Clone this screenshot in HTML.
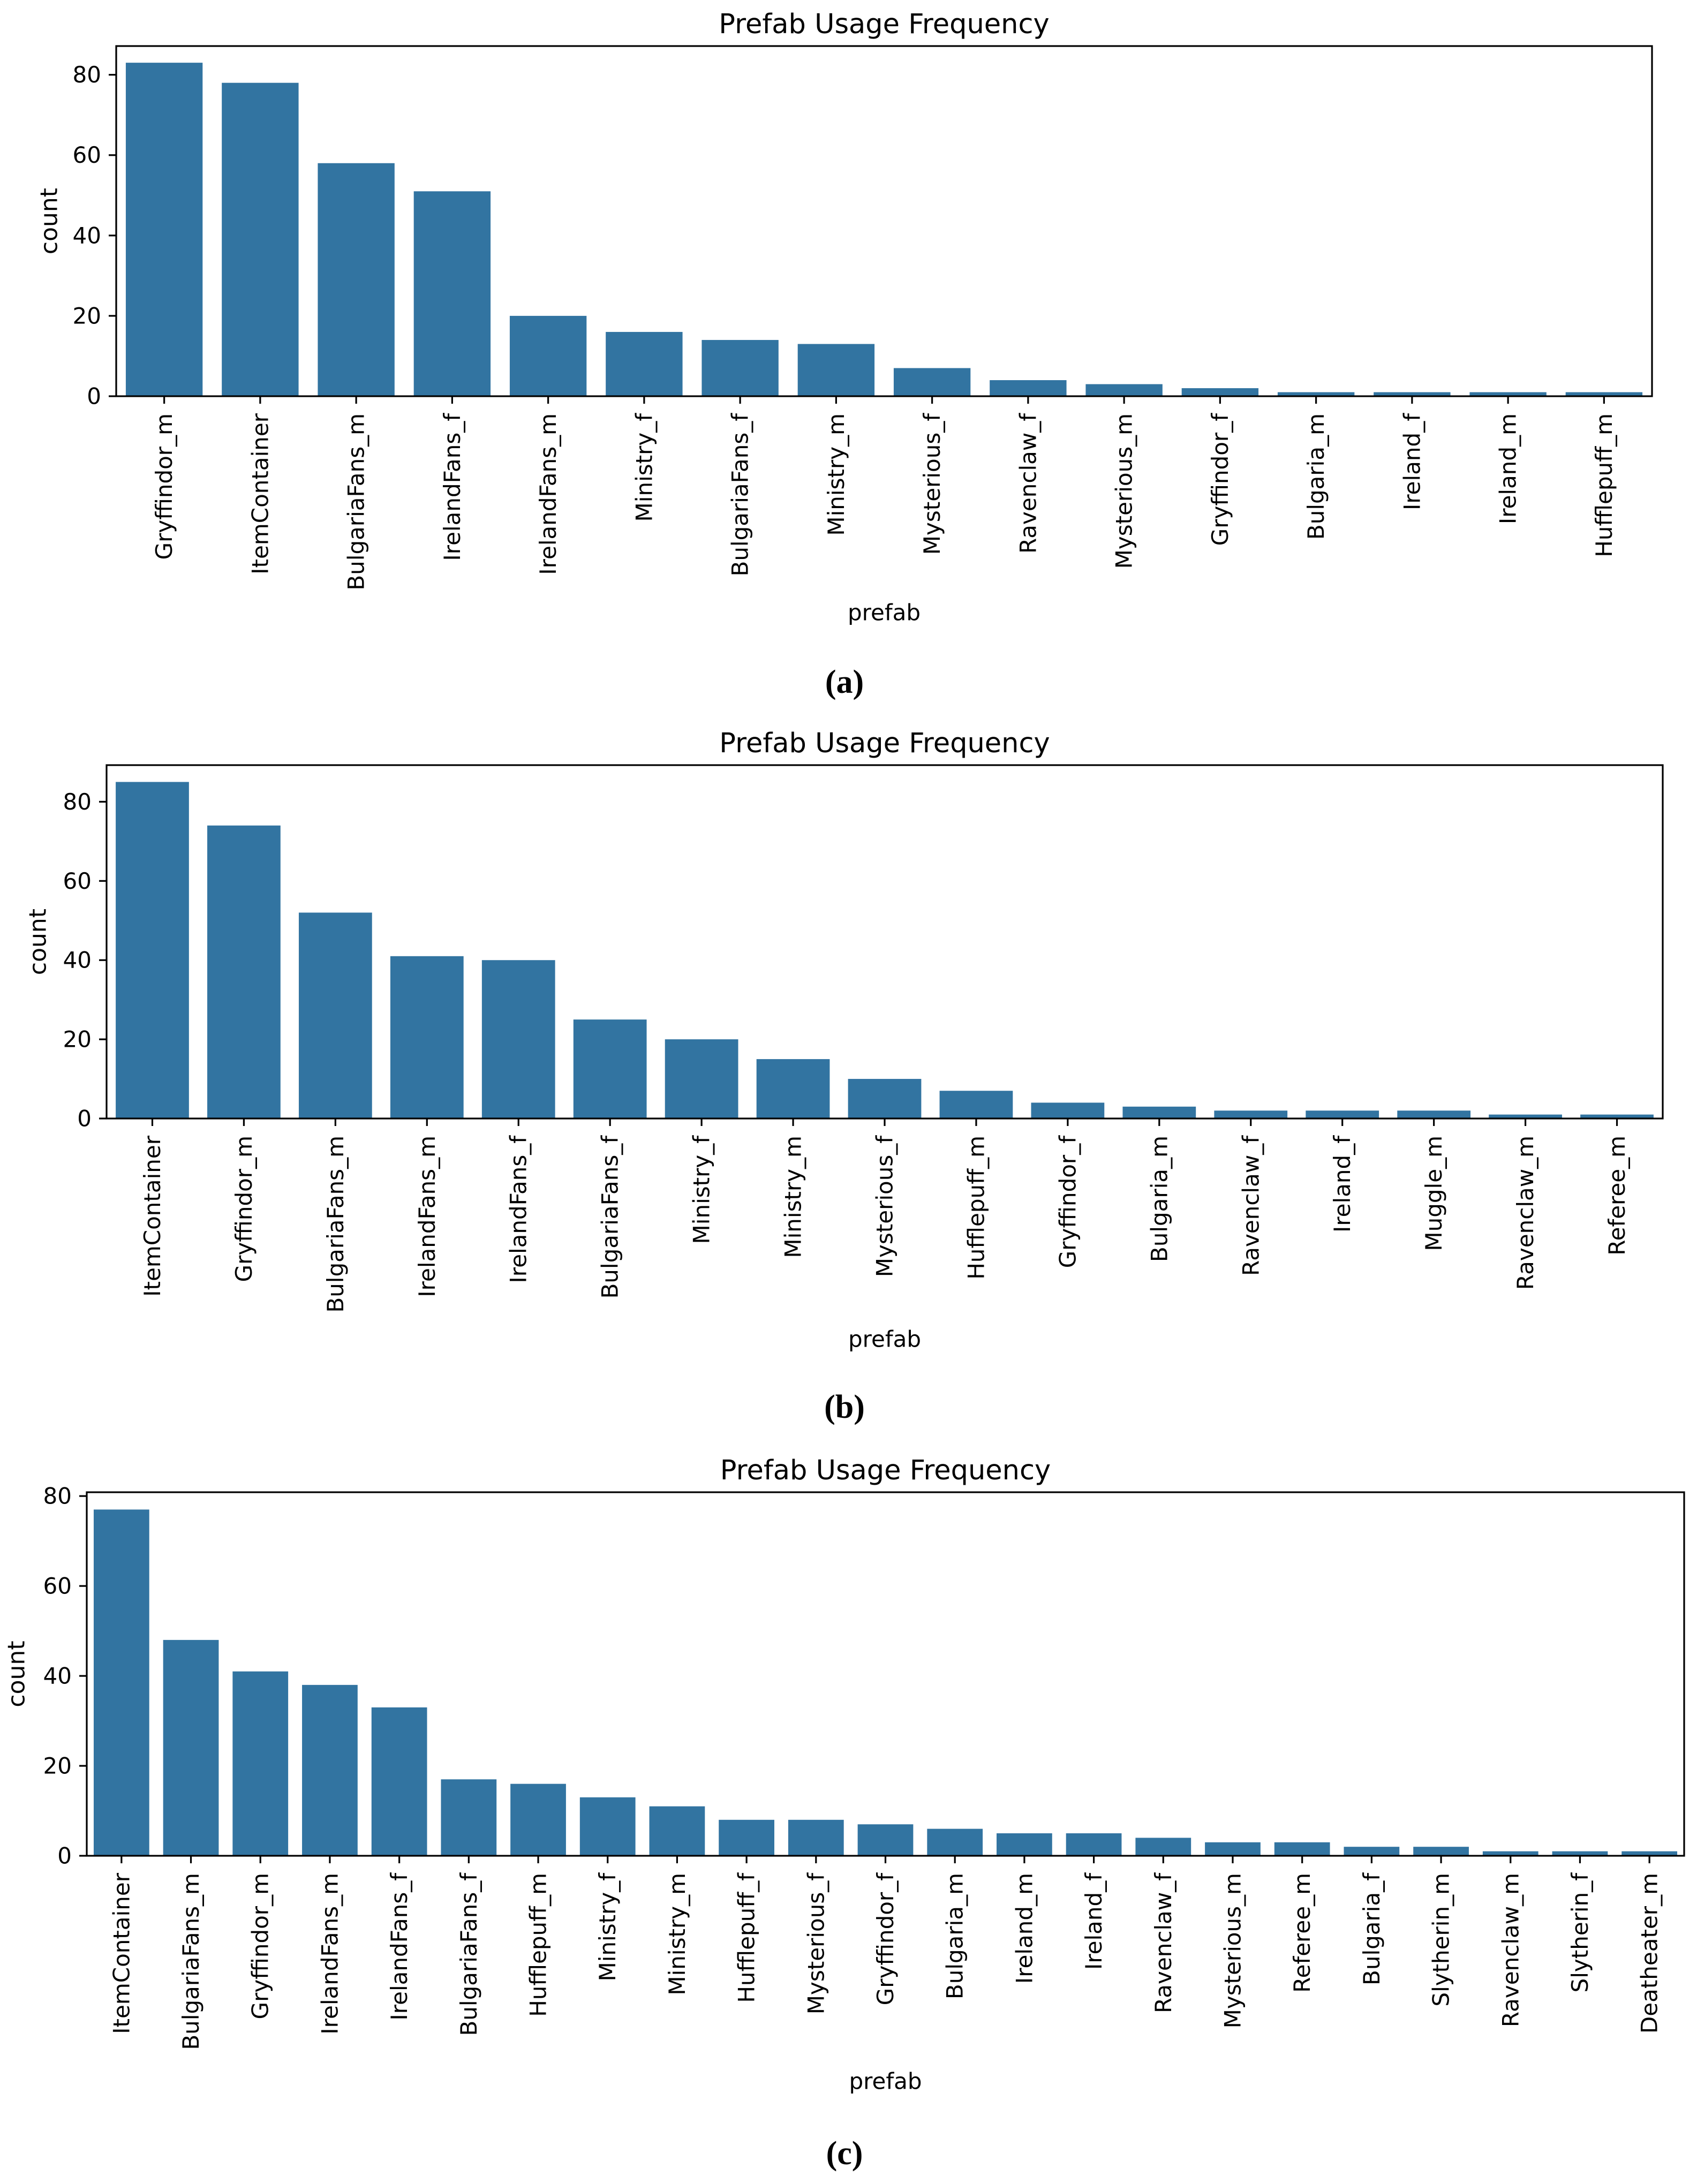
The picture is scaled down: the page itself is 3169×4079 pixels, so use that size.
<!DOCTYPE html>
<html><head><meta charset="utf-8">
<style>
html,body{margin:0;padding:0;background:#fff;}
svg{display:block;}
text{font-family:"DejaVu Sans","Liberation Sans",sans-serif;fill:#000;}
.pl{font-family:"Liberation Serif","DejaVu Serif",serif;font-weight:bold;}
</style></head>
<body>
<svg id="fig" width="3169" height="4079" viewBox="0 0 3169 4079" xmlns="http://www.w3.org/2000/svg"></svg>
<script>
const catsA = ["Gryffindor_m","ItemContainer","BulgariaFans_m","IrelandFans_f","IrelandFans_m","Ministry_f","BulgariaFans_f","Ministry_m","Mysterious_f","Ravenclaw_f","Mysterious_m","Gryffindor_f","Bulgaria_m","Ireland_f","Ireland_m","Hufflepuff_m"];
const valsA = [83,78,58,51,20,16,14,13,7,4,3,2,1,1,1,1];
const catsB = ["ItemContainer","Gryffindor_m","BulgariaFans_m","IrelandFans_m","IrelandFans_f","BulgariaFans_f","Ministry_f","Ministry_m","Mysterious_f","Hufflepuff_m","Gryffindor_f","Bulgaria_m","Ravenclaw_f","Ireland_f","Muggle_m","Ravenclaw_m","Referee_m"];
const valsB = [85,74,52,41,40,25,20,15,10,7,4,3,2,2,2,1,1];
const catsC = ["ItemContainer","BulgariaFans_m","Gryffindor_m","IrelandFans_m","IrelandFans_f","BulgariaFans_f","Hufflepuff_m","Ministry_f","Ministry_m","Hufflepuff_f","Mysterious_f","Gryffindor_f","Bulgaria_m","Ireland_m","Ireland_f","Ravenclaw_f","Mysterious_m","Referee_m","Bulgaria_f","Slytherin_m","Ravenclaw_m","Slytherin_f","Deatheater_m"];
const valsC = [77,48,41,38,33,17,16,13,11,8,8,7,6,5,5,4,3,3,2,2,1,1,1];
const yTicks = [0,20,40,60,80];
const panelLabels = ["(a)","(b)","(c)"];

const NS = "http://www.w3.org/2000/svg";
const fig = document.getElementById("fig");
function mk(tag, attrs, parent){
  const e = document.createElementNS(NS, tag);
  for (const k in attrs) e.setAttribute(k, attrs[k]);
  (parent||fig).appendChild(e);
  return e;
}
const layouts = [
  {L:217, R:3085, T:86, B:740, ylx:92, xly:1144, ply:1274},
  {L:199, R:3105, T:1429, B:2089, ylx:71, xly:2501, ply:2628},
  {L:162, R:3145, T:2787, B:3466, ylx:31, xly:3887, ply:4022}
];
const datasets = [[catsA,valsA],[catsB,valsB],[catsC,valsC]];

datasets.forEach((ds, i) => {
  const cats = ds[0], vals = ds[1], lay = layouts[i];
  const g = mk("g", {});
  
  
  const n = cats.length;
  const ymax = Math.max(...vals) * 1.05;
  const xs = k => lay.L + (k + 0.5) * (lay.R - lay.L) / n;
  const ys = v => lay.B - v * (lay.B - lay.T) / ymax;
  const bw = 0.8 * (lay.R - lay.L) / n;
  vals.forEach((v, k) => {
    const r = mk("rect", {x: xs(k) - bw/2, y: ys(v), width: bw, height: ys(0) - ys(v), fill: "#3274a1"}, g);
    
    
  });
  cats.forEach((c, k) => {
    const x = xs(k);
    mk("line", {x1:x, x2:x, y1:lay.B, y2:lay.B+14, stroke:"#000", "stroke-width":3.2}, g);
    const t = mk("text", {x:x, y:lay.B+32, "font-size":42, "text-anchor":"end", "dominant-baseline":"central", transform:`rotate(-90 ${x} ${lay.B+32})`}, g);
    t.textContent = c;
    
    
  });
  yTicks.forEach(v => {
    const y = ys(v);
    mk("line", {x1:lay.L-14, x2:lay.L, y1:y, y2:y, stroke:"#000", "stroke-width":3.2}, g);
    const t = mk("text", {x:lay.L-28, y:y, "font-size":42, "text-anchor":"end", "dominant-baseline":"central"}, g);
    t.textContent = v;
    
    
  });
  const fr = mk("rect", {x:lay.L, y:lay.T, width:lay.R-lay.L, height:lay.B-lay.T, fill:"none", stroke:"#000", "stroke-width":3.2}, g);
  
  
  const ti = mk("text", {x:(lay.L+lay.R)/2, y:lay.T-24, "font-size":51, "text-anchor":"middle"}, g);
  ti.textContent = "Prefab Usage Frequency";
  
  
  const yl = mk("text", {x:lay.ylx, y:(lay.T+lay.B)/2, "font-size":44, "text-anchor":"middle", "dominant-baseline":"central", transform:`rotate(-90 ${lay.ylx} ${(lay.T+lay.B)/2})`}, g);
  yl.textContent = "count";
  
  
  const xl = mk("text", {x:(lay.L+lay.R)/2, y:lay.xly, "font-size":42, "text-anchor":"middle", "dominant-baseline":"central"}, g);
  xl.textContent = "prefab";
  
  
  const pl = mk("text", {x:1577, y:lay.ply, "font-size":62, "text-anchor":"middle", "dominant-baseline":"central", "class":"pl"}, g);
  pl.textContent = panelLabels[i];
  
  
});
</script>
</body></html>
